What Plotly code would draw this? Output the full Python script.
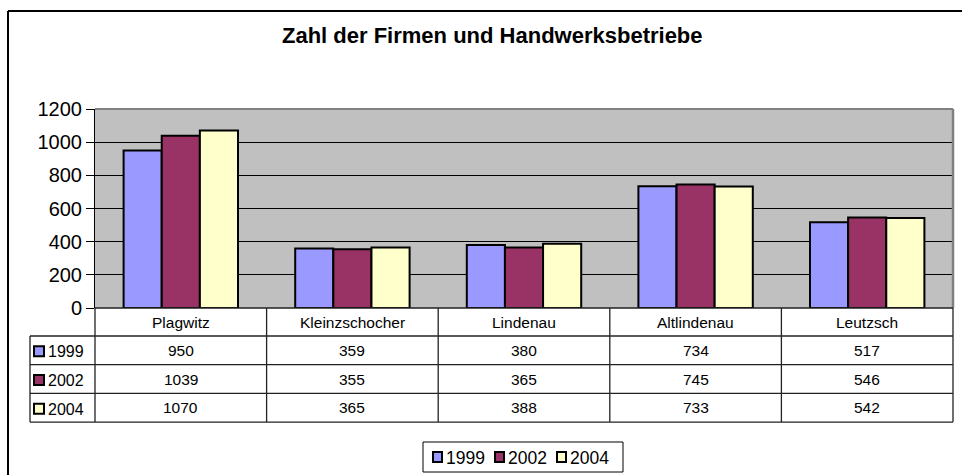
import plotly.graph_objects as go

categories = ["Plagwitz", "Kleinzschocher", "Lindenau", "Altlindenau", "Leutzsch"]
series_names = ["1999", "2002", "2004"]
values_1999 = [950, 359, 380, 734, 517]
values_2002 = [1039, 355, 365, 745, 546]
values_2004 = [1070, 365, 388, 733, 542]
series_values = [values_1999, values_2002, values_2004]
colors = ["#9999FF", "#993366", "#FFFFCC"]
y_ticks = [0, 200, 400, 600, 800, 1000, 1200]
title = "Zahl der Firmen und Handwerksbetriebe"

W, H = 962, 475
FONT = "Liberation Sans, Arial, sans-serif"

def px(x):
    return x / W

def py(y):
    return 1 - y / H

# geometry in pixels
PL, PR, PT, PB = 95, 953, 109, 308
LBL_L = 30
ROW_H = 28.7
rows_top = 336

fig = go.Figure()
for name, vals, col in zip(series_names, series_values, colors):
    fig.add_trace(go.Bar(
        x=categories, y=vals, name=name,
        marker=dict(color=col, line=dict(color="black", width=2)),
        showlegend=False,
    ))

shapes = []
annotations = []

# outer frame (top and left visible)
shapes.append(dict(type="line", xref="paper", yref="paper", x0=px(8), x1=px(962), y0=py(11), y1=py(11),
                   line=dict(color="black", width=2)))
shapes.append(dict(type="line", xref="paper", yref="paper", x0=px(8), x1=px(8), y0=py(11), y1=py(475),
                   line=dict(color="black", width=2)))

# plot border top/right in gray
shapes.append(dict(type="line", xref="paper", yref="paper", x0=px(PL), x1=px(PR), y0=py(PT), y1=py(PT),
                   line=dict(color="#808080", width=2)))
shapes.append(dict(type="line", xref="paper", yref="paper", x0=px(PR), x1=px(PR), y0=py(PT), y1=py(PB),
                   line=dict(color="#808080", width=2.5)))

# data table lines
ncat = len(categories)
colw = (PR - PL) / ncat
table_bottom = rows_top + ROW_H * len(series_names)
line_c = dict(color="#222222", width=1.3)
for i in range(ncat + 1):
    x = PL + i * colw
    shapes.append(dict(type="line", xref="paper", yref="paper", x0=px(x), x1=px(x),
                       y0=py(PB), y1=py(table_bottom), line=line_c))
shapes.append(dict(type="line", xref="paper", yref="paper", x0=px(LBL_L), x1=px(LBL_L),
                   y0=py(rows_top), y1=py(table_bottom), line=line_c))
shapes.append(dict(type="line", xref="paper", yref="paper", x0=px(PL), x1=px(PR),
                   y0=py(PB), y1=py(PB), line=line_c))
for r in range(len(series_names) + 1):
    y = rows_top + r * ROW_H
    shapes.append(dict(type="line", xref="paper", yref="paper", x0=px(LBL_L), x1=px(PR),
                       y0=py(y), y1=py(y), line=line_c))

TFS = 15.5
for i, c in enumerate(categories):
    annotations.append(dict(xref="paper", yref="paper", x=px(PL + (i + 0.5) * colw), y=py((PB + rows_top) / 2),
                            text=c, showarrow=False, font=dict(family=FONT, size=TFS, color="black"),
                            xanchor="center", yanchor="middle"))
for r, (name, vals, col) in enumerate(zip(series_names, series_values, colors)):
    yc = rows_top + (r + 0.5) * ROW_H
    shapes.append(dict(type="rect", xref="paper", yref="paper", x0=px(34), x1=px(44),
                       y0=py(yc - 4), y1=py(yc + 6), fillcolor=col, line=dict(color="black", width=2)))
    annotations.append(dict(xref="paper", yref="paper", x=px(46), y=py(yc + 1.5), text=name, showarrow=False,
                            font=dict(family=FONT, size=TFS + 0.5, color="black"), xanchor="left",
                            yanchor="middle"))
    for i, v in enumerate(vals):
        annotations.append(dict(xref="paper", yref="paper", x=px(PL + (i + 0.5) * colw), y=py(yc), text=str(v),
                                showarrow=False, font=dict(family=FONT, size=TFS, color="black"),
                                xanchor="center", yanchor="middle"))

LG_L, LG_R, LG_T, LG_B = 423, 623, 442, 472
shapes.append(dict(type="rect", xref="paper", yref="paper", x0=px(LG_L), x1=px(LG_R), y0=py(LG_T), y1=py(LG_B),
                   line=dict(color="black", width=1), fillcolor="white"))
lx = 445
lyc = (LG_T + LG_B) / 2
for name, col in zip(series_names, colors):
    shapes.append(dict(type="rect", xref="paper", yref="paper", x0=px(lx - 12), x1=px(lx - 3),
                       y0=py(lyc - 5), y1=py(lyc + 5), fillcolor=col, line=dict(color="black", width=2)))
    annotations.append(dict(xref="paper", yref="paper", x=px(lx - 1), y=py(lyc + 1), text=name, showarrow=False,
                            font=dict(family=FONT, size=17.5, color="black"), xanchor="left", yanchor="middle"))
    lx += 62

annotations.append(dict(xref="paper", yref="paper", x=px(492), y=py(35), text="<b>" + title + "</b>",
                        showarrow=False, font=dict(family=FONT, size=22, color="black"),
                        xanchor="center", yanchor="middle"))

fig.update_layout(
    width=W, height=H, autosize=False,
    margin=dict(l=0, r=0, t=0, b=0, pad=0, autoexpand=False),
    paper_bgcolor="white",
    plot_bgcolor="#C0C0C0",
    barmode="group",
    bargap=1.5 / 4.5,
    bargroupgap=0,
    shapes=shapes,
    annotations=annotations,
    font=dict(family=FONT, color="black"),
)
fig.update_xaxes(domain=[px(PL), px(PR)], showticklabels=False, showgrid=False, zeroline=False,
                 showline=False, ticks="", automargin=False)
fig.update_yaxes(domain=[py(PB), py(PT)], range=[0, 1200], tickvals=y_ticks, showgrid=True,
                 gridcolor="black", gridwidth=1, zeroline=False, showline=True, linecolor="black",
                 linewidth=1, ticks="outside", ticklen=8, tickcolor="black", automargin=False,
                 tickfont=dict(family=FONT, size=20, color="black"))

fig.write_html("out.html", config={"displayModeBar": False},
               post_script="document.body.style.margin='0';document.body.style.overflow='hidden';")
